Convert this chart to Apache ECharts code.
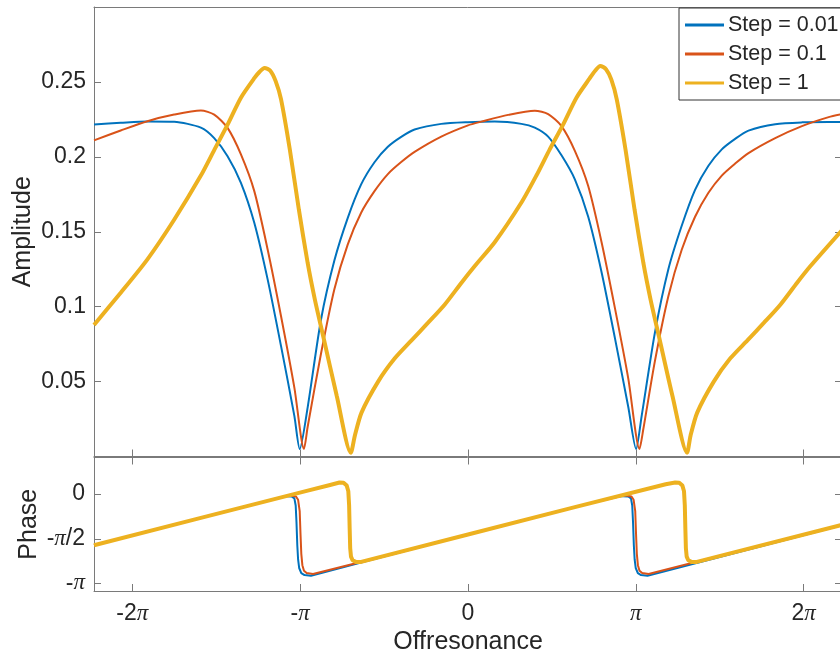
<!DOCTYPE html>
<html>
<head>
<meta charset="utf-8">
<script src="https://cdn.jsdelivr.net/npm/echarts@6/dist/echarts.min.js"></script>
<style>html,body{margin:0;padding:0;background:#fff;}#c{width:840px;height:653px;}</style>
</head>
<body>
<div id="c"></div>
<script>
// ---------- data (x in radians of off-resonance) ----------
const seriesNames = ['Step = 0.01', 'Step = 0.1', 'Step = 1'];
const xTickValues = [-2 * Math.PI, -Math.PI, 0, Math.PI, 2 * Math.PI];
const xTickLabels = ['-2{p|π}', '-{p|π}', '0', '{p|π}', '2{p|π}'];
const ampTickValues = [0.05, 0.1, 0.15, 0.2, 0.25];
const ampTickLabels = ['0.05', '0.1', '0.15', '0.2', '0.25'];
const phaseTickValues = [-Math.PI, -Math.PI / 2, 0];
const phaseTickLabels = ['-{p|π}', '-{p|π}/2', '0'];

const blueAmp = [
  [-7.0,0.2216],[-6.5,0.2227],[-6.0,0.2236],[-5.5,0.2234],[-5.0,0.2195],[-4.75,0.2125],[-4.5,0.2004],
  [-4.25,0.1827],[-4.0,0.156],[-3.75,0.1182],[-3.5,0.0738],[-3.25,0.0271],[-3.15,0.005],[-3.0,0.033],
  [-2.75,0.0916],[-2.5,0.1309],[-2.25,0.1593],[-2.0,0.1816],[-1.75,0.1964],[-1.5,0.2067],[-1.25,0.2133],
  [-1.0,0.2182],[-0.5,0.222],[0.0,0.2231],[0.5,0.2235],[1.0,0.222],[1.25,0.2195],[1.5,0.2135],[1.75,0.201],
  [2.0,0.185],[2.25,0.16],[2.5,0.123],[2.75,0.079],[3.0,0.033],[3.146,0.005],[3.25,0.027],[3.5,0.083],
  [3.75,0.125],[4.0,0.154],[4.25,0.178],[4.5,0.194],[4.75,0.205],[5.0,0.212],[5.25,0.2175],[5.75,0.2218],
  [6.25,0.223],[6.75,0.2232],[7.0,0.2232]
];
const orangeAmp = [
  [-7.0,0.211],[-6.5,0.2176],[-6.0,0.2238],[-5.5,0.2282],[-5.0,0.2309],[-4.75,0.2282],[-4.5,0.2193],
  [-4.25,0.2016],[-4.0,0.1771],[-3.75,0.1382],[-3.5,0.0938],[-3.25,0.046],[-3.07,0.005],[-3.0,0.02],
  [-2.75,0.0689],[-2.5,0.1118],[-2.25,0.1416],[-2.0,0.1627],[-1.75,0.1771],[-1.5,0.1885],[-1.25,0.1965],
  [-1.0,0.2033],[-0.5,0.2135],[0.0,0.221],[0.25,0.2235],[0.75,0.228],[1.25,0.2308],[1.5,0.2285],
  [1.75,0.2205],[2.0,0.204],[2.25,0.1805],[2.5,0.143],[2.75,0.099],[3.0,0.052],[3.21,0.005],[3.28,0.018],
  [3.5,0.064],[3.75,0.107],[4.0,0.138],[4.25,0.16],[4.5,0.176],[4.75,0.1875],[5.0,0.1955],[5.25,0.2025],
  [5.75,0.2125],[6.25,0.2205],[6.75,0.2265],[7.0,0.2285]
];
const yellowAmp = [
  [-7.0,0.0878],[-6.5,0.1093],[-6.0,0.1316],[-5.5,0.158],[-5.0,0.1875],[-4.75,0.2045],[-4.5,0.2215],
  [-4.25,0.2395],[-4.0,0.2525],[-3.9,0.2568],[-3.808,0.2593],[-3.7,0.2575],[-3.6,0.2505],[-3.5,0.2385],
  [-3.335,0.2049],[-3.166,0.1649],[-3.0,0.129],[-2.867,0.1049],[-2.711,0.0804],[-2.455,0.0402],
  [-2.193,0.0025],[-2.118,0.0139],
  [-1.993,0.0293],[-1.682,0.050],[-1.37,0.0655],[-1.057,0.0775],[-0.747,0.0893],[-0.434,0.1015],
  [-0.122,0.116],[0.127,0.1271],[0.5,0.143],[1.0,0.1695],[1.28,0.1875],[1.53,0.205],[1.78,0.2215],
  [2.03,0.2395],[2.28,0.2525],[2.38,0.2575],[2.475,0.2607],[2.583,0.2585],[2.683,0.2515],[2.783,0.2385],
  [2.948,0.2049],[3.117,0.1649],[3.283,0.129],[3.416,0.1049],[3.572,0.0804],[3.828,0.0402],[4.1,0.0025],
  [4.165,0.0139],[4.29,0.0293],
  [4.6,0.050],[4.91,0.0655],[5.23,0.0775],[5.54,0.0893],[5.85,0.1015],[6.16,0.116],[6.41,0.1271],[7.0,0.151]
];

const bluePhase = [
  [-7.0,-1.80],[-5.0,-0.835],[-3.4,-0.07],[-3.3,-0.08],[-3.25,-0.15],[-3.225,-0.4],[-3.21,-1.0],
  [-3.195,-1.8],[-3.18,-2.3],[-3.16,-2.6],[-3.12,-2.78],[-3.06,-2.85],[-2.94,-2.87],[-1.968,-2.39],
  [0.0,-1.42],[2.0,-0.455],[2.8,-0.07],[2.9,-0.07],[3.0,-0.08],[3.05,-0.15],[3.074,-0.4],[3.089,-1.0],
  [3.104,-1.8],[3.119,-2.3],[3.139,-2.6],[3.179,-2.78],[3.239,-2.85],[3.359,-2.87],[7.0,-1.09]
];
const orangePhase = [
  [-7.0,-1.80],[-5.0,-0.835],[-3.35,-0.04],[-3.22,-0.08],[-3.18,-0.2],[-3.15,-0.6],[-3.135,-1.4],
  [-3.12,-2.1],[-3.1,-2.5],[-3.07,-2.7],[-3.02,-2.78],[-2.9,-2.81],[-1.968,-2.37],[0.0,-1.42],
  [2.0,-0.455],[2.93,-0.04],[3.06,-0.08],[3.1,-0.2],[3.13,-0.6],[3.145,-1.4],[3.16,-2.1],[3.18,-2.5],
  [3.21,-2.7],[3.26,-2.78],[3.38,-2.81],[7.0,-1.08]
];
const yellowPhase = [
  [-7.0,-1.80],[-5.0,-0.835],[-3.0,0.125],[-2.6,0.315],[-2.405,0.41],[-2.33,0.40],[-2.27,0.30],
  [-2.24,0.1],[-2.225,-0.4],[-2.215,-1.2],[-2.205,-1.9],[-2.19,-2.2],[-2.16,-2.33],[-2.1,-2.385],
  [-2.0,-2.385],[-1.968,-2.37],[0.0,-1.42],[2.0,-0.455],[3.7,0.35],[3.878,0.41],[3.953,0.40],
  [4.013,0.30],[4.043,0.1],[4.058,-0.4],[4.068,-1.2],[4.078,-1.9],[4.093,-2.2],[4.123,-2.33],
  [4.183,-2.385],[4.283,-2.385],[4.315,-2.37],[7.0,-1.08]
];

// ---------- chart ----------
const FONT = 'Liberation Sans';
const AX = '#7a7a7a';
const TXT = '#262626';
const colors = ['#0072BD', '#D95319', '#EDB120'];
const widths = [2, 2, 4];
const piRich = { p: { fontFamily: 'Liberation Serif', fontStyle: 'italic', fontSize: 23, color: TXT } };

function labelFrom(values, labels) {
  return function (v) {
    for (let i = 0; i < values.length; i++) if (Math.abs(values[i] - v) < 1e-6) return labels[i];
    return '';
  };
}

const X0 = -7, X1 = 7;
const A0 = 0, A1 = 0.3;
const P0 = -3.41, P1 = 1.29;

function xAx(grid, pos, opts) {
  return Object.assign({
    type: 'value', gridIndex: grid, position: pos, min: X0, max: X1,
    axisLine: { show: true, onZero: false, lineStyle: { color: AX, width: 1 } },
    axisTick: { show: false },
    axisLabel: { show: false },
    splitLine: { show: false }
  }, opts || {});
}
function yAx(grid, pos, min, max, opts) {
  return Object.assign({
    type: 'value', gridIndex: grid, position: pos, min: min, max: max,
    axisLine: { show: true, onZero: false, lineStyle: { color: AX, width: 1 } },
    axisTick: { show: false },
    axisLabel: { show: false },
    splitLine: { show: false }
  }, opts || {});
}
const tickIn = (vals) => ({ show: true, inside: true, length: 7, customValues: vals, lineStyle: { color: AX, width: 1 } });

const option = {
  animation: false,
  backgroundColor: '#fff',
  color: colors,
  textStyle: { fontFamily: FONT },
  grid: [
    { left: 94, top: 7, width: 748, height: 449.5, containLabel: false, outerBoundsMode: 'none' },
    { left: 94, top: 457.5, width: 748, height: 133.5, containLabel: false, outerBoundsMode: 'none' }
  ],
  legend: {
    data: seriesNames,
    orient: 'vertical',
    left: 679, top: 8,
    padding: [6, 10, 6, 6],
    itemGap: 7,
    itemWidth: 39, itemHeight: 3,
    icon: 'rect',
    backgroundColor: '#fff',
    borderColor: '#333',
    borderWidth: 1,
    borderRadius: 0,
    textStyle: { fontFamily: FONT, fontSize: 21.5, color: TXT, padding: [0, 0, 0, -1] }
  },
  xAxis: [
    xAx(0, 'bottom', { axisTick: tickIn(xTickValues) }),
    xAx(0, 'top'),
    xAx(1, 'bottom', {
      axisTick: tickIn(xTickValues),
      axisLabel: { show: true, customValues: xTickValues, formatter: labelFrom(xTickValues, xTickLabels),
        margin: 11, fontSize: 23, color: TXT, fontFamily: FONT, rich: piRich },
      name: 'Offresonance', nameLocation: 'middle', nameGap: 39, nameMoveOverlap: false,
      nameTextStyle: { fontSize: 25, color: TXT, fontFamily: FONT }
    }),
    xAx(1, 'top', { axisTick: tickIn(xTickValues) })
  ],
  yAxis: [
    yAx(0, 'left', A0, A1, {
      axisTick: tickIn(ampTickValues),
      axisLabel: { show: true, customValues: ampTickValues, formatter: labelFrom(ampTickValues, ampTickLabels),
        margin: 8, fontSize: 23, color: TXT, fontFamily: FONT },
      name: 'Amplitude', nameLocation: 'middle', nameGap: 58, nameRotate: 90, nameMoveOverlap: false,
      nameTextStyle: { fontSize: 25, color: TXT, fontFamily: FONT }
    }),
    yAx(0, 'right', A0, A1, { axisTick: tickIn(ampTickValues) }),
    yAx(1, 'left', P0, P1, {
      axisTick: tickIn(phaseTickValues),
      axisLabel: { show: true, customValues: phaseTickValues, formatter: labelFrom(phaseTickValues, phaseTickLabels),
        margin: 9, fontSize: 23, color: TXT, fontFamily: FONT, rich: piRich },
      name: 'Phase', nameLocation: 'middle', nameGap: 52, nameRotate: 90, nameMoveOverlap: false,
      nameTextStyle: { fontSize: 25, color: TXT, fontFamily: FONT }
    }),
    yAx(1, 'right', P0, P1, { axisTick: tickIn(phaseTickValues) })
  ],
  series: []
};

const ampData = [blueAmp, orangeAmp, yellowAmp];
const phaseData = [bluePhase, orangePhase, yellowPhase];
for (let i = 0; i < 3; i++) {
  option.series.push({
    name: seriesNames[i], type: 'line', xAxisIndex: 0, yAxisIndex: 0,
    data: ampData[i], showSymbol: false, symbol: 'none', smooth: 0.25, clip: true,
    lineStyle: { width: widths[i], color: colors[i] }, z: 2 + i
  });
}
for (let i = 0; i < 3; i++) {
  option.series.push({
    name: seriesNames[i], type: 'line', xAxisIndex: 2, yAxisIndex: 2,
    data: phaseData[i], showSymbol: false, symbol: 'none', smooth: false, clip: true,
    lineStyle: { width: widths[i], color: colors[i], join: 'round' }, z: 2 + i
  });
}

const chart = echarts.init(document.getElementById('c'), null, { renderer: 'canvas' });
chart.setOption(option);
</script>
</body>
</html>
